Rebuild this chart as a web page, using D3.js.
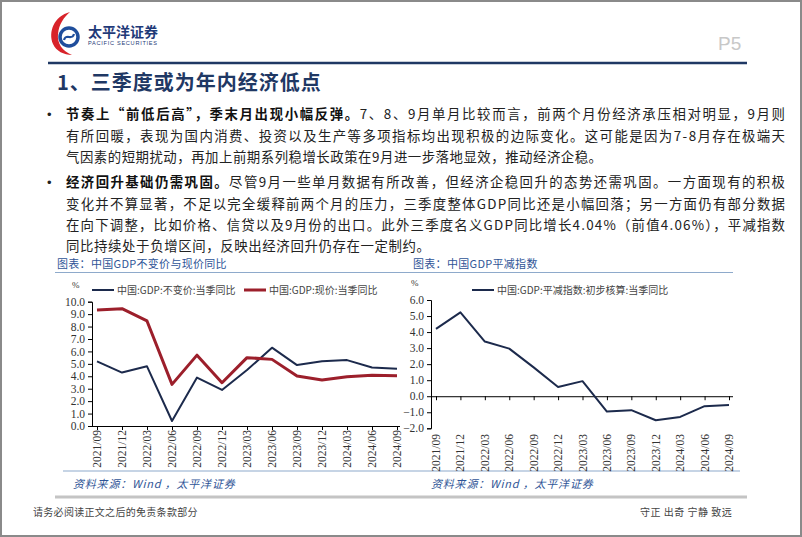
<!DOCTYPE html>
<html>
<head>
<meta charset="UTF-8">
<title></title>
<style>
    body { margin: 0; background: #fff; }
    svg { display: block; }
    .cn { font-family: "Noto Sans CJK SC", sans-serif; }
    .serif { font-family: "Liberation Serif", "DejaVu Serif", serif; }
</style>
<script src="https://cdn.jsdelivr.net/npm/d3@7/dist/d3.min.js"></script>
</head>
<body>
<svg id="page" width="802" height="537"></svg>
<script>
    // data
    var quarters = ['2021/09', '2021/12', '2022/03', '2022/06', '2022/09', '2022/12', '2023/03',
        '2023/06', '2023/09', '2023/12', '2024/03', '2024/06', '2024/09'];
    var realGdp = [5.2, 4.3, 4.8, 0.4, 3.9, 2.9, 4.5, 6.3, 4.9, 5.2, 5.3, 4.7, 4.6];
    var nominalGdp = [9.33, 9.44, 8.45, 3.35, 5.7, 3.48, 5.5, 5.36, 4.02, 3.7, 3.97, 4.08, 4.04];
    var deflator = [4.2, 5.23, 3.41, 2.97, 1.8, 0.58, 0.94, -0.96, -0.87, -1.5, -1.29, -0.62, -0.54];
    var leftTicks = [0, 1, 2, 3, 4, 5, 6, 7, 8, 9, 10];
    var rightTicks = [-2, -1, 0, 1, 2, 3, 4, 5, 6];

    var navy = '#1c2a4c', red = '#9c1f2b', capBlue = '#2f5597';

    var svg = d3.select('#page');

    // page frame
    svg.append('rect').attr('x', 1).attr('y', 1).attr('width', 800).attr('height', 535)
        .attr('fill', 'none').attr('stroke', '#8a8a8a').attr('stroke-width', 2);

    // ---- header ----
    var logo = svg.append('g');
    logo.append('path')
        .attr('d', 'M70,12 C54,16 48,32 53,44 C56,51 64,55 72,55 C62,51 57,43 58,34 C59,24 64,17 70,12 Z')
        .attr('fill', '#d8232a');
    logo.append('circle').attr('cx', 69).attr('cy', 37).attr('r', 9)
        .attr('fill', 'none').attr('stroke', '#1f4e9c').attr('stroke-width', 3.5);
    logo.append('path')
        .attr('d', 'M64,40 C66,33 72,41 74,34')
        .attr('fill', 'none').attr('stroke', '#1f4e9c').attr('stroke-width', 2.2);
    svg.append('text').attr('class', 'cn').attr('x', 88).attr('y', 37)
        .attr('font-size', 14).attr('font-weight', 'bold').attr('fill', '#1f3a78')
        .attr('textLength', 70).text('太平洋证券');
    svg.append('text').attr('x', 88).attr('y', 45)
        .attr('font-family', 'Liberation Sans, sans-serif').attr('font-size', 5.6).attr('fill', '#1f3a78')
        .attr('textLength', 69).text('PACIFIC SECURITIES');
    svg.append('text').attr('x', 718).attr('y', 50)
        .attr('font-family', 'Liberation Sans, sans-serif').attr('font-size', 19).attr('fill', '#c8c8c8')
        .text('P5');
    svg.append('line').attr('x1', 48).attr('x2', 747).attr('y1', 63).attr('y2', 63)
        .attr('stroke', '#1f3864').attr('stroke-width', 2.5);

    svg.append('text').attr('class', 'cn').attr('x', 57).attr('y', 90)
        .attr('font-size', 20).attr('font-weight', 'bold').attr('fill', '#1f3864')
        .attr('letter-spacing', 1).text('1、三季度或为年内经济低点');

    // ---- body text ----
    var lines = [
        {y: 119, b: '节奏上“前低后高”，季末月出现小幅反弹。', t: '7、8、9月单月比较而言，前两个月份经济承压相对明显，9月则', w: 719, bullet: true},
        {y: 141, b: '', t: '有所回暖，表现为国内消费、投资以及生产等多项指标均出现积极的边际变化。这可能是因为7-8月存在极端天', w: 719},
        {y: 162, b: '', t: '气因素的短期扰动，再加上前期系列稳增长政策在9月进一步落地显效，推动经济企稳。', w: 536},
        {y: 187, b: '经济回升基础仍需巩固。', t: '尽管9月一些单月数据有所改善，但经济企稳回升的态势还需巩固。一方面现有的积极', w: 719, bullet: true},
        {y: 209, b: '', t: '变化并不算显著，不足以完全缓释前两个月的压力，三季度整体GDP同比还是小幅回落；另一方面仍有部分数据', w: 719},
        {y: 230, b: '', t: '在向下调整，比如价格、信贷以及9月份的出口。此外三季度名义GDP同比增长4.04%（前值4.06%），平减指数', w: 719},
        {y: 251, b: '', t: '同比持续处于负增区间，反映出经济回升仍存在一定制约。', w: 364}
    ];
    lines.forEach(function (l) {
        if (l.bullet) {
            svg.append('text').attr('x', 47).attr('y', l.y).attr('font-size', 13)
                .attr('font-family', 'Liberation Sans, sans-serif').attr('fill', '#222').text('•');
        }
        var t = svg.append('text').attr('class', 'cn').attr('x', 66).attr('y', l.y)
            .attr('font-size', 13.4).attr('fill', '#222')
            .attr('textLength', l.w).attr('lengthAdjust', 'spacing');
        if (l.b) t.append('tspan').attr('font-weight', 'bold').attr('fill', '#111').text(l.b);
        t.append('tspan').text(l.t);
    });

    // ---- chart captions and rules ----
    svg.append('text').attr('class', 'cn').attr('x', 57).attr('y', 268).attr('font-size', 11)
        .attr('fill', capBlue).attr('letter-spacing', 0.3).text('图表：中国GDP不变价与现价同比');
    svg.append('text').attr('class', 'cn').attr('x', 413).attr('y', 268).attr('font-size', 11)
        .attr('fill', capBlue).attr('letter-spacing', 0.3).text('图表：中国GDP平减指数');
    svg.append('line').attr('x1', 55).attr('x2', 733).attr('y1', 272.5).attr('y2', 272.5)
        .attr('stroke', '#8eaacb').attr('stroke-width', 1.2);
    svg.append('line').attr('x1', 63).attr('x2', 740).attr('y1', 471).attr('y2', 471)
        .attr('stroke', '#8eaacb').attr('stroke-width', 1.2);
    svg.append('line').attr('x1', 55).attr('x2', 747).attr('y1', 497).attr('y2', 497)
        .attr('stroke', '#c4c4c4').attr('stroke-width', 3);
    [73, 431].forEach(function (x) {
        svg.append('text').attr('class', 'cn').attr('x', x).attr('y', 488).attr('font-size', 11)
            .attr('font-style', 'italic').attr('fill', capBlue).attr('letter-spacing', 0.8)
            .text('资料来源：Wind ，太平洋证券');
    });

    // ---- footer ----
    svg.append('text').attr('class', 'cn').attr('x', 33).attr('y', 516).attr('font-size', 10)
        .attr('fill', '#444').attr('letter-spacing', 0.3).text('请务必阅读正文之后的免责条款部分');
    svg.append('text').attr('class', 'cn').attr('x', 640).attr('y', 516).attr('font-size', 10)
        .attr('fill', '#444').attr('letter-spacing', 0.5).text('守正 出奇 宁静 致远');

    // ---- chart helper ----
    function drawChart(opt) {
        var g = svg.append('g');
        var x = d3.scalePoint().domain(quarters).range(opt.xRange);
        var y = d3.scaleLinear().domain(opt.yDomain).range(opt.yRange);

        g.append('g').attr('transform', 'translate(' + opt.axisX + ',0)')
            .call(d3.axisLeft(y).tickValues(opt.yTicks).tickFormat(d3.format('.1f')).tickSize(4).tickPadding(3))
            .call(function (a) {
                a.select('.domain').attr('stroke', '#000');
                a.selectAll('text').attr('class', 'serif').attr('font-size', 11.5).attr('fill', '#333');
            });

        var xa = g.append('g').attr('transform', 'translate(0,' + y(0) + ')')
            .call(d3.axisBottom(x).tickSize(4).tickFormat(''));
        xa.select('.domain').attr('d', 'M' + opt.axisX + ',0.5H' + opt.axisEnd).attr('stroke', '#000');

        g.selectAll('.xl').data(quarters).enter().append('text')
            .attr('class', 'serif').attr('font-size', 11.5).attr('fill', '#333')
            .attr('text-anchor', 'end')
            .attr('transform', function (d) {
                return 'translate(' + (x(d) + 4) + ',' + opt.labelTop + ') rotate(-90)';
            })
            .text(function (d) { return d; });

        g.append('text').attr('class', 'serif').attr('x', opt.axisX - 20).attr('y', opt.yRange[1] - 14)
            .attr('font-size', 9).attr('fill', '#333').text('%');

        var line = d3.line().x(function (d, i) { return x(quarters[i]); }).y(function (d) { return y(d); });
        opt.series.forEach(function (s, k) {
            g.append('path').datum(s.values).attr('d', line)
                .attr('fill', 'none').attr('stroke', s.color).attr('stroke-width', s.width)
                .attr('stroke-linejoin', 'round');
            var lx = opt.legendX[k];
            g.append('line').attr('x1', lx).attr('x2', lx + 22).attr('y1', opt.legendY).attr('y2', opt.legendY)
                .attr('stroke', s.color).attr('stroke-width', s.width);
            g.append('text').attr('class', 'cn').attr('x', lx + 25).attr('y', opt.legendY + 3.5)
                .attr('font-size', 10).attr('fill', '#444').text(s.name);
        });
    }

    drawChart({
        xRange: [97, 397], yDomain: [0, 10], yRange: [426, 301.7], yTicks: leftTicks,
        axisX: 92, axisEnd: 400, labelTop: 430,
        legendX: [92, 244], legendY: 290,
        series: [
            {name: '中国:GDP:不变价:当季同比', values: realGdp, color: navy, width: 2},
            {name: '中国:GDP:现价:当季同比', values: nominalGdp, color: red, width: 3}
        ]
    });

    drawChart({
        xRange: [436, 729], yDomain: [-2, 6], yRange: [428.3, 300], yTicks: rightTicks,
        axisX: 431, axisEnd: 733, labelTop: 434,
        legendX: [472], legendY: 290,
        series: [
            {name: '中国:GDP:平减指数:初步核算:当季同比', values: deflator, color: navy, width: 2}
        ]
    });
</script>
</body>
</html>
